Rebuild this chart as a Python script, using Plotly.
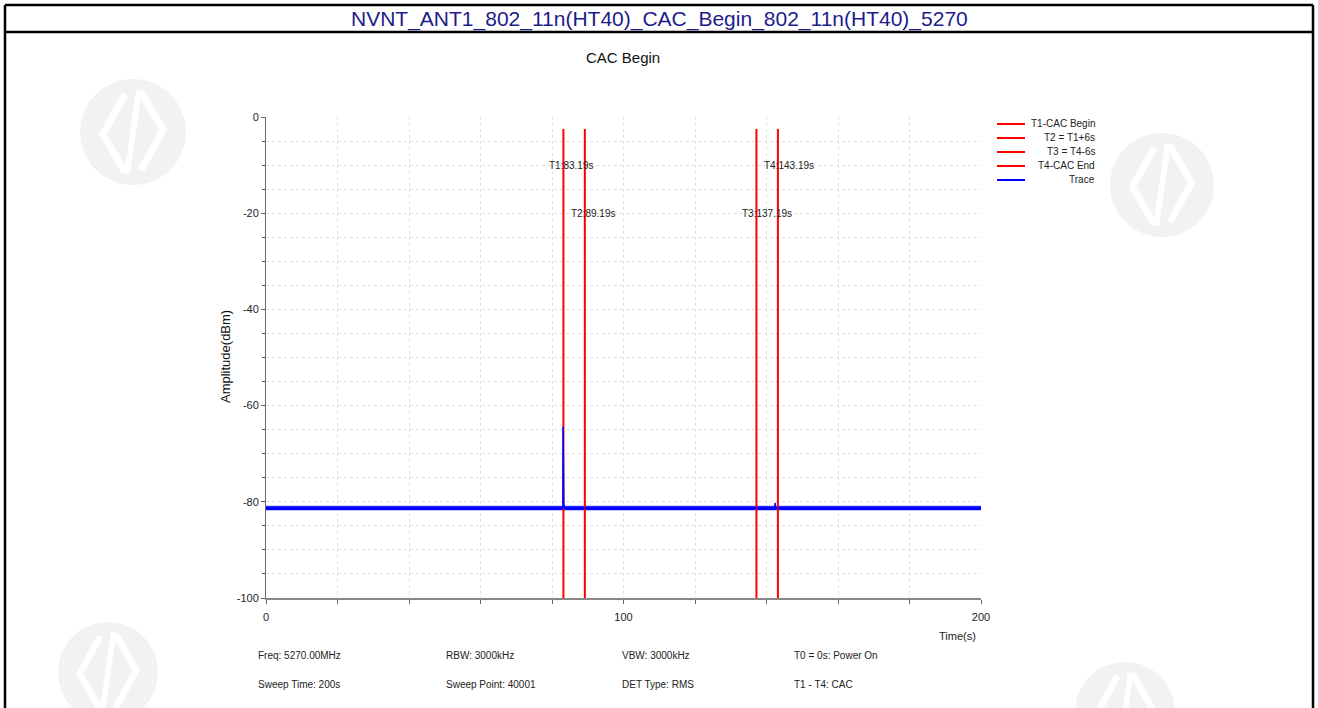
import plotly.graph_objects as go

# ---- data ----
header_text = "NVNT_ANT1_802_11n(HT40)_CAC_Begin_802_11n(HT40)_5270"
chart_title = "CAC Begin"

marker_names = ["T1-CAC Begin", "T2 = T1+6s", "T3 = T4-6s", "T4-CAC End"]
marker_times = [83.19, 89.19, 137.19, 143.19]
marker_labels = ["T1:83.19s", "T2:89.19s", "T3:137.19s", "T4:143.19s"]
marker_label_levels = [-10, -20, -20, -10]
marker_top = -2.5

trace_name = "Trace"
trace_time = [0, 83.05, 83.10, 83.15, 83.30, 83.40, 83.50, 142.30, 142.40, 142.50, 200]
trace_amp = [-81.3, -81.3, -64.4, -81.3, -81.3, -80.7, -81.3, -81.3, -80.2, -81.3, -81.3]
# noise floor envelope of the trace
floor_time = [0, 200]
floor_low = [-81.7, -81.7]
floor_high = [-80.9, -80.9]

x_tick_vals = [0, 100, 200]
x_tick_text = ["0", "100", "200"]
y_tick_vals = [0, -20, -40, -60, -80, -100]
y_tick_text = ["0", "-20", "-40", "-60", "-80", "-100"]

info_row1 = ["Freq: 5270.00MHz", "RBW: 3000kHz", "VBW: 3000kHz", "T0 = 0s: Power On"]
info_row2 = ["Sweep Time: 200s", "Sweep Point: 40001", "DET Type: RMS", "T1 - T4: CAC"]
info_x_px = [256, 444, 620, 792]

# ---- geometry ----
W, H = 1318, 708
L, R, T, B = 266, 981, 117, 598
PW, PH = R - L, B - T

def px(x):
    return (x - L) / PW

def py(y):
    return (B - y) / PH

FONT = "Liberation Sans, Arial"
TXT = "#222222"
BLUE = "#0000ff"
RED = "#ff0000"

fig = go.Figure()

fig.add_trace(go.Scatter(x=floor_time, y=floor_low, mode="lines",
                         line=dict(color=BLUE, width=0.5), showlegend=False, hoverinfo="skip"))
fig.add_trace(go.Scatter(x=floor_time, y=floor_high, mode="lines", fill="tonexty",
                         fillcolor=BLUE, line=dict(color=BLUE, width=0.5),
                         showlegend=False, hoverinfo="skip"))

for name, t in zip(marker_names, marker_times):
    fig.add_trace(go.Scatter(x=[t, t], y=[marker_top, -100], mode="lines",
                             line=dict(color=RED, width=2),
                             name=name, showlegend=False, hoverinfo="skip"))

fig.add_trace(go.Scatter(x=trace_time, y=trace_amp, mode="lines",
                         line=dict(color=BLUE, width=1.5),
                         name=trace_name, showlegend=False))

annotations = []
shapes = []

# marker labels
for lbl, t, lvl in zip(marker_labels, marker_times, marker_label_levels):
    annotations.append(dict(x=t, y=lvl, xref="x", yref="y", text=lbl, showarrow=False,
                            xanchor="left", yanchor="middle", xshift=-16,
                            font=dict(family=FONT, size=10, color=TXT)))

# legend (right-aligned labels with line samples)
legend_items = list(zip(marker_names, [RED] * 4)) + [(trace_name, BLUE)]
for i, (name, col) in enumerate(legend_items):
    yy = 124 + 14 * i
    shapes.append(dict(type="line", xref="paper", yref="paper",
                       x0=px(997), x1=px(1025), y0=py(yy), y1=py(yy),
                       line=dict(color=col, width=2)))
    annotations.append(dict(x=px(1097), y=py(yy), xref="paper", yref="paper", text=name,
                            showarrow=False, xanchor="right", yanchor="middle",
                            font=dict(family=FONT, size=10, color=TXT)))

# header and chart titles
annotations.append(dict(x=px(659), y=py(19), xref="paper", yref="paper", text=header_text,
                        showarrow=False, xanchor="center", yanchor="middle",
                        font=dict(family=FONT, size=21, color="#1c1c8a")))
annotations.append(dict(x=px(623), y=py(57), xref="paper", yref="paper", text=chart_title,
                        showarrow=False, xanchor="center", yanchor="middle",
                        font=dict(family=FONT, size=15, color="#111111")))

# axis titles
annotations.append(dict(x=px(978), y=py(636), xref="paper", yref="paper", text="Time(s)",
                        showarrow=False, xanchor="right", yanchor="middle",
                        font=dict(family=FONT, size=11, color=TXT)))
annotations.append(dict(x=px(225), y=py(357), xref="paper", yref="paper", text="Amplitude(dBm)",
                        showarrow=False, textangle=-90, xanchor="center", yanchor="middle",
                        font=dict(family=FONT, size=13, color="#111111")))

# measurement info
for row, yy in ((info_row1, 655), (info_row2, 684)):
    for txt, xx in zip(row, info_x_px):
        annotations.append(dict(x=px(xx), y=py(yy), xref="paper", yref="paper", text=txt,
                                showarrow=False, xanchor="left", yanchor="middle",
                                font=dict(family=FONT, size=10, color=TXT)))

# faint watermark badges: grey disc with a white double chevron
for cx, cy, r in ((133, 132, 53), (1162, 185, 52), (108, 672, 50), (1125, 712, 50)):
    shapes.append(dict(type="circle", xref="paper", yref="paper",
                       x0=px(cx - r), x1=px(cx + r), y0=py(cy + r), y1=py(cy - r),
                       fillcolor="#f2f2f2", line=dict(width=0), layer="below"))
    k = r / 53.0
    pts_left = [(cx - 8 * k, cy - 38 * k), (cx - 30 * k, cy + 2 * k), (cx - 8 * k, cy + 40 * k)]
    pts_right = [(cx + 8 * k, cy - 40 * k), (cx + 30 * k, cy - 2 * k), (cx + 8 * k, cy + 38 * k)]
    for pts in (pts_left, pts_right):
        path = "M " + " L ".join(f"{px(a):.5f},{py(b):.5f}" for a, b in pts)
        shapes.append(dict(type="path", xref="paper", yref="paper", path=path,
                           line=dict(color="white", width=7 * k), layer="below"))
    shapes.append(dict(type="line", xref="paper", yref="paper",
                       x0=px(cx - 6 * k), x1=px(cx + 6 * k), y0=py(cy + 42 * k), y1=py(cy - 42 * k),
                       line=dict(color="white", width=6 * k), layer="below"))

# frame: outer box and header divider
for x0, y0, x1, y1 in ((5, 5, 1313, 5), (5, 32, 1313, 32), (5, 5, 5, 708), (1313, 5, 1313, 708)):
    shapes.append(dict(type="line", xref="paper", yref="paper",
                       x0=px(x0), x1=px(x1), y0=py(y0), y1=py(y1),
                       line=dict(color="#000000", width=2.5)))

grid = dict(showgrid=True, gridcolor="#e0e0e0", griddash="3px,3px", gridwidth=1)

fig.update_layout(
    width=W, height=H,
    margin=dict(l=L, r=W - R, t=T, b=H - B),
    paper_bgcolor="white", plot_bgcolor="rgba(0,0,0,0)",
    showlegend=False,
    annotations=annotations, shapes=shapes,
    xaxis=dict(range=[0, 200], tickvals=x_tick_vals, ticktext=x_tick_text,
               ticks="outside", ticklen=4, tickcolor="#666", ticklabelstandoff=4,
               showline=True, linecolor="#888", linewidth=2, zeroline=False,
               tickfont=dict(family=FONT, size=11, color=TXT),
               minor=dict(dtick=20, tick0=0, ticks="outside", ticklen=4, tickcolor="#666", **grid),
               **grid),
    yaxis=dict(range=[-100, 0], tickvals=y_tick_vals, ticktext=y_tick_text,
               ticks="outside", ticklen=4, tickcolor="#666",
               showline=True, linecolor="#666", linewidth=1, zeroline=False,
               tickfont=dict(family=FONT, size=11, color=TXT),
               minor=dict(dtick=5, tick0=0, ticks="outside", ticklen=3, tickcolor="#666", **grid),
               **grid),
)

fig.write_html("out.html")
